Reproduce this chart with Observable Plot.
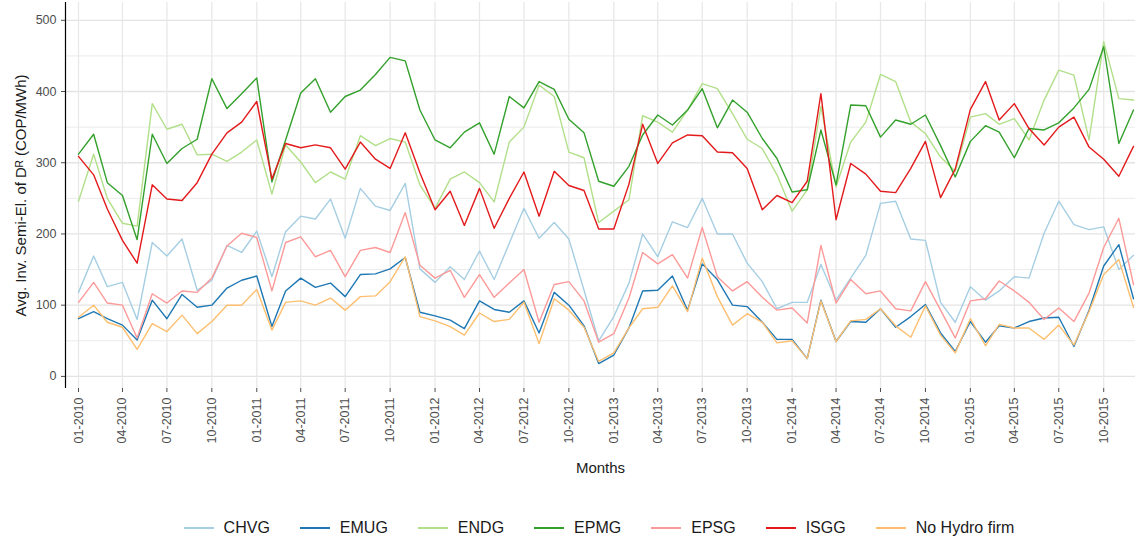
<!DOCTYPE html>
<html>
<head>
<meta charset="utf-8">
<script src="https://cdn.jsdelivr.net/npm/d3@7"></script>
<script src="https://cdn.jsdelivr.net/npm/@observablehq/plot@0.6"></script>
<style>
  body { margin: 0; background: #fff; font-family: "Liberation Sans", Arial, sans-serif; }
  #legend { display: flex; justify-content: center; gap: 30px; font-size: 16px; color: #1a1a1a; margin-top: 39px; margin-left: 60px; }
  #legend span { display: inline-flex; align-items: center; gap: 10px; }
  #legend i { display: inline-block; width: 30px; height: 2px; }
</style>
</head>
<body>
<div id="chart"></div>
<div id="legend"></div>
<script>
const firms = ["CHVG", "EMUG", "ENDG", "EPMG", "EPSG", "ISGG", "No Hydro firm"];
const colors = ["#a6cee3", "#1f78b4", "#b2df8a", "#33a02c", "#fb9a99", "#e31a1c", "#fdbf6f"];

// monthly values, 01-2010 .. 12-2015
const CHVG = [118,169,126,132,80,188,169,193,121,135,184,174, 204,140,203,225,221,249,194,264,239,233,271,151,
  132,154,136,176,136,187,236,194,216,193,121,50, 84,131,200,168,217,209,250,200,200,159,133,95,
  104,104,157,107,138,170,243,246,193,191,104,76, 126,107,120,140,138,201,246,213,206,210,150,170];
const EMUG = [81,91,81,72,51,107,81,115,97,100,124,135, 141,70,120,138,125,131,112,143,144,151,167,90,
  85,79,67,106,94,90,106,61,118,100,71,18, 30,68,120,121,141,93,158,136,100,98,76,52,
  52,25,107,49,77,76,95,69,84,101,61,35, 77,48,71,68,77,82,83,42,93,155,185,109];
const ENDG = [246,312,250,215,211,383,347,354,311,312,302,315, 332,256,325,301,272,287,277,338,324,334,329,269,
  236,277,287,272,245,329,350,409,393,315,307,216, 232,248,366,357,343,374,411,404,369,333,320,283,
  232,262,379,266,329,357,424,414,357,341,308,288, 364,369,354,362,332,388,430,423,332,470,390,388];
const EPMG = [312,340,272,254,192,340,299,320,333,418,376,397, 419,273,332,398,418,371,393,402,424,448,443,374,
  332,321,343,356,312,393,377,414,403,361,342,274, 267,295,339,367,353,374,404,349,388,371,334,306,
  259,262,346,269,381,380,336,360,354,367,324,280, 330,352,343,307,348,346,356,377,403,463,327,374];
const EPSG = [104,132,103,100,54,116,103,120,118,138,183,201, 195,120,188,196,168,177,140,177,181,174,230,156,
  138,149,111,143,111,131,150,76,129,133,106,48, 60,110,174,158,171,138,209,140,120,133,111,93,
  96,75,184,103,136,116,120,95,92,133,93,54, 106,109,134,120,104,80,96,77,117,181,222,129];
const ISGG = [309,283,235,191,159,269,249,247,272,312,342,357, 386,277,327,321,325,321,291,329,305,292,342,286,
  234,260,212,264,208,250,287,225,288,268,261,207, 207,270,354,299,328,339,338,315,314,292,234,254,
  244,274,397,220,299,284,260,258,292,330,251,291, 375,414,360,383,348,325,350,364,322,305,281,323];
const NoHydro = [83,100,76,69,38,74,63,86,60,77,100,100, 122,65,104,106,100,110,93,112,113,133,168,84,
  78,70,58,89,77,80,104,46,109,93,69,21, 33,68,95,97,127,91,166,112,72,88,76,47,
  50,25,106,49,78,80,95,71,55,99,58,33, 81,43,73,68,68,52,72,44,91,143,164,97];

const series = [CHVG, EMUG, ENDG, EPMG, EPSG, ISGG, NoHydro];
const months = d3.utcMonth.range(new Date(Date.UTC(2010, 0, 1)), new Date(Date.UTC(2016, 0, 1)));
const quarterTicks = months.filter((d, i) => i % 3 === 0);

const data = [];
series.forEach((vals, k) => vals.forEach((v, i) => data.push({firm: firms[k], date: months[i], value: v})));

const fmt = d3.utcFormat("%m-%Y");

const chart = Plot.plot({
  width: 1138,
  height: 480,
  marginLeft: 65,
  marginRight: 3,
  marginTop: 2,
  marginBottom: 92,
  insetLeft: 13,
  insetRight: 2,
  style: {fontFamily: "Liberation Sans, Arial, sans-serif", fontSize: "12px", color: "#4d4d4d"},
  x: {type: "utc", domain: [months[0], months[71]]},
  y: {domain: [-17, 525]},
  color: {domain: firms, range: colors},
  marks: [
    Plot.gridY([50, 150, 250, 350, 450], {stroke: "#ebebeb", strokeOpacity: 1, strokeWidth: 1}),
    Plot.gridY([0, 100, 200, 300, 400, 500], {stroke: "#e3e3e3", strokeOpacity: 1, strokeWidth: 1.3}),
    Plot.gridX(quarterTicks, {stroke: "#e8e8e8", strokeOpacity: 1, strokeWidth: 1.3}),
    Plot.lineY(data, {x: "date", y: "value", z: "firm", stroke: "firm", strokeWidth: 1.4}),
    Plot.axisX({ticks: quarterTicks, tickFormat: fmt, tickRotate: -90, label: "Months", labelAnchor: "center",
      labelOffset: 84, tickSize: 4, fontSize: 12.5, color: "#4d4d4d", labelArrow: "none"}),
    Plot.axisY({ticks: [0, 100, 200, 300, 400, 500], label: "Avg. Inv. Semi-El. of Dᴿ (COP/MWh)", labelAnchor: "center",
      labelOffset: 50, tickSize: 4, fontSize: 12.5, color: "#4d4d4d", labelArrow: "none"}),
    Plot.ruleX([0], {x: () => months[0], dx: -13, stroke: "#000", strokeWidth: 1.2})
  ]
});
d3.select(chart).selectAll("g[aria-label='x-axis label'] text, g[aria-label='y-axis label'] text")
  .style("font-size", "15px").style("fill", "#1a1a1a");
d3.select("#chart").append(() => chart);

const legend = d3.select("#legend");
firms.forEach((f, i) => {
  const s = legend.append("span");
  s.append("i").style("background", colors[i]);
  s.append("b").style("font-weight", "normal").text(f);
});
</script>
</body>
</html>
